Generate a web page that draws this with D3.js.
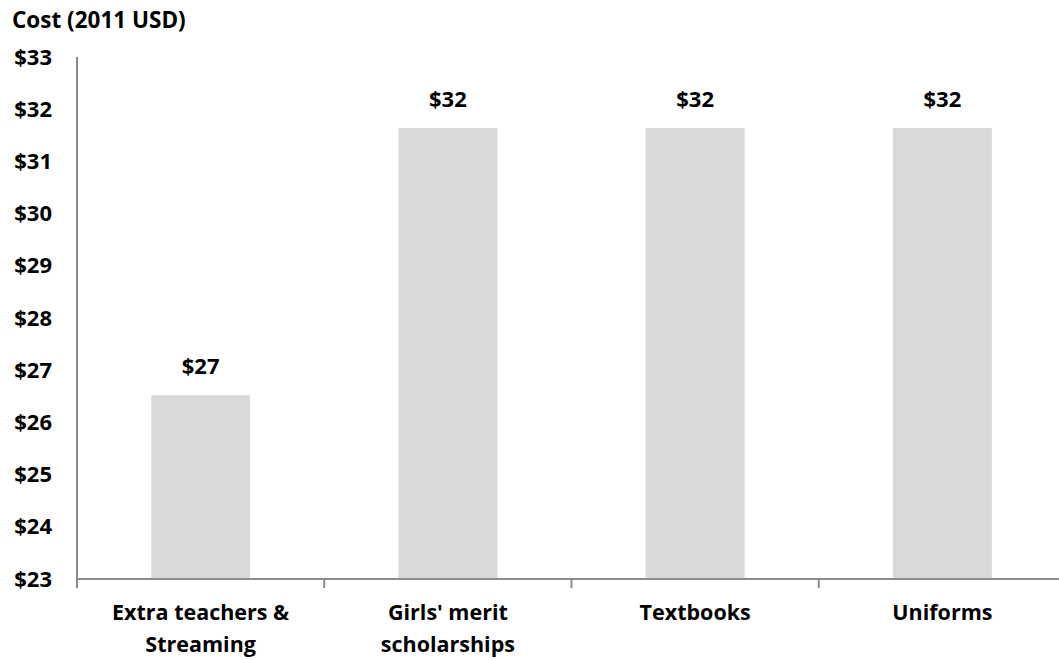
<!DOCTYPE html>
<head>
  <meta charset='utf-8'>
  <style>
    body { margin: 0; background: #fff; }
    text { font-family: 'Open Sans', Lato, sans-serif; font-weight: bold; fill: #000; }
    .axis path, .axis line { stroke: #8c8c8c; stroke-width: 2px; }
    .bar { fill: #d9d9d9; }
  </style>
</head>
<body>
<script src='https://d3js.org/d3.v7.min.js'></script>
<script>
  var categories = [['Extra teachers &', 'Streaming'], ["Girls' merit", 'scholarships'], ['Textbooks'], ['Uniforms']],
      values = [26.52, 31.64, 31.64, 31.64],
      labels = ['$27', '$32', '$32', '$32'],
      yTicks = [23, 24, 25, 26, 27, 28, 29, 30, 31, 32, 33];

  var W = 1059, H = 660,
      margin = {top: 57, left: 77, bottom: 81},
      plotW = 989,
      h = H - margin.top - margin.bottom;

  var svg = d3.select('body').append('svg')
      .attr('width', W)
      .attr('height', H);

  var x = d3.scaleBand()
      .domain(d3.range(categories.length))
      .range([margin.left, margin.left + plotW])
      .paddingInner(0.6)
      .paddingOuter(0.3);

  var y = d3.scaleLinear()
      .domain([23, 33])
      .range([margin.top + h, margin.top]);

  svg.append('text')
      .attr('x', 12)
      .attr('y', 28)
      .style('font-size', '22.5px')
      .text('Cost (2011 USD)');

  svg.selectAll('.bar')
      .data(values)
      .enter().append('rect')
      .attr('class', 'bar')
      .attr('x', function(d, i) { return x(i); })
      .attr('width', x.bandwidth())
      .attr('y', function(d) { return y(d); })
      .attr('height', function(d) { return y(23) - y(d); });

  svg.selectAll('.val')
      .data(values)
      .enter().append('text')
      .attr('class', 'val')
      .attr('x', function(d, i) { return x(i) + x.bandwidth() / 2; })
      .attr('y', function(d) { return y(d) - 21; })
      .attr('text-anchor', 'middle')
      .style('font-size', '22px')
      .text(function(d, i) { return labels[i]; });

  // y axis
  var yAxis = svg.append('g')
      .attr('class', 'axis')
      .attr('transform', 'translate(' + margin.left + ',0)')
      .call(d3.axisLeft(y).tickValues(yTicks).tickSize(0).tickPadding(25)
        .tickFormat(function(d) { return '$' + d; }));
  yAxis.select('.domain').attr('d', 'M0,' + y(33) + 'V' + (y(23) + 9));
  yAxis.selectAll('text').style('font-size', '22px');

  // x axis with ticks between categories
  var start = margin.left;
  var xAxis = svg.append('g')
      .attr('class', 'axis')
      .attr('transform', 'translate(0,' + y(23) + ')');
  xAxis.append('path')
      .attr('d', 'M' + start + ',0H' + (start + plotW));
  xAxis.selectAll('.sep')
      .data(d3.range(1, categories.length + 1))
      .enter().append('line')
      .attr('x1', function(d) { return start + d * plotW / categories.length; })
      .attr('x2', function(d) { return start + d * plotW / categories.length; })
      .attr('y1', 0)
      .attr('y2', 9);

  var cat = xAxis.selectAll('.cat')
      .data(categories)
      .enter().append('text')
      .attr('class', 'cat')
      .attr('text-anchor', 'middle')
      .style('font-size', '21.5px')
      .attr('transform', function(d, i) { return 'translate(' + (x(i) + x.bandwidth() / 2) + ',41)'; });
  cat.selectAll('tspan')
      .data(function(d) { return d; })
      .enter().append('tspan')
      .attr('x', 0)
      .attr('dy', function(d, i) { return i ? 32 : 0; })
      .text(function(d) { return d; });
</script>
</body>
